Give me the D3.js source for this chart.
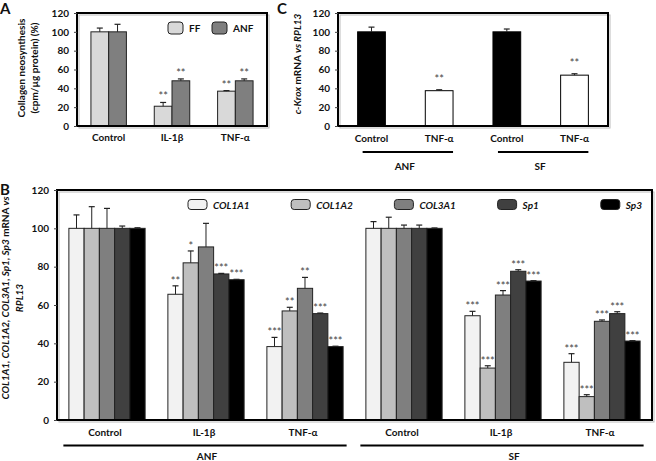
<!DOCTYPE html>
<html><head><meta charset="utf-8">
<script src="https://cdn.jsdelivr.net/npm/d3@7"></script>
<style>
body{margin:0;background:#fff}
text{font-family:Lato,"Open Sans",sans-serif;font-weight:bold;fill:#111}
</style>
</head><body>
<svg id="chart" width="656" height="461"></svg>
<script>
// ---------- Panel A data ----------
const aGroups = ["Control", "IL-1β", "TNF-α"];
const aSeries = ["FF", "ANF"];
const aFF = [100, 21, 37];
const aFFerr = [4, 4, 0.6];
const aANF = [100, 48, 48];
const aANFerr = [8, 2, 2];
const aFFstars = ["", "**", "**"];
const aANFstars = ["", "**", "**"];
const aTicks = [0, 20, 40, 60, 80, 100, 120];

// ---------- Panel C data ----------
const cCategories = ["Control", "TNF-α", "Control", "TNF-α"];
const cValues = [100, 37.5, 100, 54];
const cErr = [5, 1, 3, 1.5];
const cStars = ["", "**", "", "**"];
const cCellTypes = ["ANF", "SF"];
const cTicks = [0, 20, 40, 60, 80, 100, 120];

// ---------- Panel B data ----------
const bTreatments = ["Control", "IL-1β", "TNF-α", "Control", "IL-1β", "TNF-α"];
const bCellTypes = ["ANF", "SF"];
const bGenes = ["COL1A1", "COL1A2", "COL3A1", "Sp1", "Sp3"];
const bCOL1A1 = [100, 65.6, 38.3, 100, 54.4, 30.1];
const bCOL1A2 = [100, 82, 56.9, 100, 27.1, 12.2];
const bCOL3A1 = [100, 90.3, 68.7, 100, 65.2, 51.5];
const bSp1 = [100, 76.2, 55.5, 100, 77.6, 55.5];
const bSp3 = [100, 73.2, 38.3, 100, 72.5, 41.2];
const bCOL1A1err = [7, 4.4, 4.8, 3.5, 2.3, 4.5];
const bCOL1A2err = [11.3, 6.2, 1.9, 5.8, 1.2, 1.0];
const bCOL3A1err = [10.4, 12.3, 5.7, 1.7, 2.3, 0.7];
const bSp1err = [1.2, 0.3, 0.3, 1.7, 0.8, 1.0];
const bSp3err = [0.3, 0.2, 0.2, 0.2, 0.2, 0.2];
const bCOL1A1stars = ["", "**", "***", "", "***", "***"];
const bCOL1A2stars = ["", "*", "**", "", "***", "***"];
const bCOL3A1stars = ["", "", "**", "", "***", "***"];
const bSp1stars = ["", "***", "***", "", "***", "***"];
const bSp3stars = ["", "***", "***", "", "***", "***"];
const bTicks = [0, 20, 40, 60, 80, 100, 120];

const svg = d3.select("#chart");
const STROKE = "#222";

function errBar(g, x, w, yTop, yErr) {
  const cx = x + w / 2;
  g.append("line").attr("x1", cx).attr("x2", cx).attr("y1", yTop).attr("y2", yErr)
    .attr("stroke", STROKE).attr("stroke-width", 1);
  g.append("line").attr("x1", cx - 3).attr("x2", cx + 3).attr("y1", yErr).attr("y2", yErr)
    .attr("stroke", STROKE).attr("stroke-width", 1.2);
}
function stars(g, x, w, yErr, s, size) {
  if (!s) return;
  g.append("text").attr("x", x + w / 2).attr("y", yErr - 1).attr("text-anchor", "middle")
    .style("font-size", size + "px").style("fill", "#444").style("font-weight", "normal")
    .text(s);
}
function yAxis(g, y, ticks, x0) {
  const ax = d3.axisLeft(y).tickValues(ticks).tickSize(3).tickPadding(5);
  const a = g.append("g").attr("transform", `translate(${x0},0)`).call(ax);
  a.select(".domain").remove();
  a.selectAll("line").attr("stroke", "#444");
  a.selectAll("text").style("font-family", "Lato").style("font-weight", "bold")
    .style("font-size", "10px").attr("fill", "#111");
}
function frame(g, x0, x1, y0, y1) {
  g.append("rect").attr("x", x0 + 2).attr("y", y0 + 2).attr("width", x1 - x0).attr("height", y1 - y0)
    .attr("fill", "none").attr("stroke", "#bbb").attr("stroke-width", 1);
  g.append("rect").attr("x", x0).attr("y", y0).attr("width", x1 - x0).attr("height", y1 - y0)
    .attr("fill", "none").attr("stroke", "#000").attr("stroke-width", 2);
}

// ================= Panel A =================
{
  const g = svg.append("g");
  const L = 77, R = 267, T = 13, B = 126;
  const y = d3.scaleLinear().domain([0, 120]).range([B, T]);
  const x = d3.scaleBand().domain(aGroups).range([L, R]).paddingInner(0.44).paddingOuter(0.22);
  const xs = d3.scaleBand().domain(aSeries).range([0, x.bandwidth()]);
  const colors = { FF: "#d9d9d9", ANF: "#7f7f7f" };
  const vals = { FF: aFF, ANF: aANF };
  const errs = { FF: aFFerr, ANF: aANFerr };
  const st = { FF: aFFstars, ANF: aANFstars };
  aSeries.forEach(s => {
    aGroups.forEach((grp, i) => {
      const bx = x(grp) + xs(s), bw = xs.bandwidth();
      g.append("rect").attr("x", bx).attr("y", y(vals[s][i])).attr("width", bw)
        .attr("height", y(0) - y(vals[s][i])).attr("fill", colors[s]).attr("stroke", STROKE).attr("stroke-width", 1);
      const ye = y(vals[s][i] + errs[s][i]);
      errBar(g, bx, bw, y(vals[s][i]), ye);
      stars(g, bx, bw, ye - 1, st[s][i], 11);
    });
  });
  frame(g, L, R, T, B);
  yAxis(g, y, aTicks, L);
  aGroups.forEach(grp => {
    g.append("text").attr("x", x(grp) + x.bandwidth() / 2).attr("y", 141).attr("text-anchor", "middle")
      .style("font-size", "10px").text(grp);
  });
  // legend
  const lx = [168, 212];
  aSeries.forEach((s, i) => {
    g.append("rect").attr("x", lx[i]).attr("y", 22).attr("width", 15).attr("height", 12).attr("rx", 3)
      .attr("fill", colors[s]).attr("stroke", STROKE);
    g.append("text").attr("x", lx[i] + 21).attr("y", 32).style("font-size", "10px").text(s);
  });
  // y title
  const t = g.append("text").attr("transform", "translate(25,68) rotate(-90)").attr("text-anchor", "middle")
    .style("font-size", "10px");
  t.append("tspan").attr("x", 0).attr("dy", 0).text("Collagen neosynthesis");
  t.append("tspan").attr("x", 0).attr("dy", 13).text("(cpm/µg protein) (%)");
  g.append("text").attr("x", 0).attr("y", 14).style("font-size", "15px").text("A");
}

// ================= Panel C =================
{
  const g = svg.append("g");
  const L = 338, R = 608, T = 13, B = 126;
  const y = d3.scaleLinear().domain([0, 120]).range([B, T]);
  const x = d3.scaleBand().domain(d3.range(cCategories.length)).range([L, R]).paddingInner(0.59).paddingOuter(0.29);
  cCategories.forEach((c, i) => {
    const bx = x(i), bw = x.bandwidth();
    g.append("rect").attr("x", bx).attr("y", y(cValues[i])).attr("width", bw)
      .attr("height", y(0) - y(cValues[i])).attr("fill", c === "Control" ? "#000" : "#fff")
      .attr("stroke", "#000").attr("stroke-width", 1);
    const ye = y(cValues[i] + cErr[i]);
    errBar(g, bx, bw, y(cValues[i]), ye);
    stars(g, bx, bw, ye - 6, cStars[i], 11);
    g.append("text").attr("x", bx + bw / 2).attr("y", 142).attr("text-anchor", "middle")
      .style("font-size", "10px").text(c);
  });
  frame(g, L, R, T, B);
  yAxis(g, y, cTicks, L);
  cCellTypes.forEach((ct, k) => {
    const x0 = x(2 * k) + 5, x1 = x(2 * k + 1) + x.bandwidth();
    g.append("line").attr("x1", x0).attr("x2", x1).attr("y1", 152).attr("y2", 152)
      .attr("stroke", "#000").attr("stroke-width", 1.8);
    g.append("text").attr("x", (x0 + x1) / 2 - 3).attr("y", 170).attr("text-anchor", "middle")
      .style("font-size", "10px").text(ct);
  });
  const t = g.append("text").attr("transform", "translate(301,64) rotate(-90)").attr("text-anchor", "middle")
    .style("font-size", "10px");
  t.append("tspan").style("font-style", "italic").text("c-Krox");
  t.append("tspan").text(" mRNA ");
  t.append("tspan").style("font-style", "italic").text("vs RPL13");
  g.append("text").attr("x", 277).attr("y", 14).style("font-size", "15px").text("C");
}

// ================= Panel B =================
{
  const g = svg.append("g");
  const L = 57, R = 652, T = 190, B = 420;
  const y = d3.scaleLinear().domain([0, 120]).range([B, T]);
  const x = d3.scaleBand().domain(d3.range(bTreatments.length)).range([L, R]).paddingInner(0.23).paddingOuter(0.12);
  const xs = d3.scaleBand().domain(bGenes).range([0, x.bandwidth()]);
  const colors = { COL1A1: "#f2f2f2", COL1A2: "#bfbfbf", COL3A1: "#7f7f7f", Sp1: "#404040", Sp3: "#000000" };
  const vals = { COL1A1: bCOL1A1, COL1A2: bCOL1A2, COL3A1: bCOL3A1, Sp1: bSp1, Sp3: bSp3 };
  const errs = { COL1A1: bCOL1A1err, COL1A2: bCOL1A2err, COL3A1: bCOL3A1err, Sp1: bSp1err, Sp3: bSp3err };
  const st = { COL1A1: bCOL1A1stars, COL1A2: bCOL1A2stars, COL3A1: bCOL3A1stars, Sp1: bSp1stars, Sp3: bSp3stars };
  bGenes.forEach(gene => {
    bTreatments.forEach((tr, i) => {
      const bx = x(i) + xs(gene), bw = xs.bandwidth();
      const v = vals[gene][i];
      g.append("rect").attr("x", bx).attr("y", y(v)).attr("width", bw).attr("height", y(0) - y(v))
        .attr("fill", colors[gene]).attr("stroke", STROKE).attr("stroke-width", 1);
      const ye = y(v + errs[gene][i]);
      errBar(g, bx, bw, y(v), ye);
    });
  });
  bGenes.forEach(gene => {
    bTreatments.forEach((tr, i) => {
      const bx = x(i) + xs(gene), bw = xs.bandwidth();
      const ye = y(vals[gene][i] + errs[gene][i]);
      stars(g, bx, bw, ye, st[gene][i], 11);
    });
  });
  frame(g, L, R, T, B);
  yAxis(g, y, bTicks, L);
  bTreatments.forEach((tr, i) => {
    g.append("text").attr("x", x(i) + x.bandwidth() / 2 - 2).attr("y", 436).attr("text-anchor", "middle")
      .style("font-size", "10px").text(tr);
  });
  bCellTypes.forEach((ct, k) => {
    const x0 = x(3 * k) - 5.5, x1 = x(3 * k + 2) + x.bandwidth() + 3.5;
    g.append("line").attr("x1", x0).attr("x2", x1).attr("y1", 445.5).attr("y2", 445.5)
      .attr("stroke", "#000").attr("stroke-width", 2);
    g.append("text").attr("x", (x0 + x1) / 2 + (k === 1 ? 12 : 2)).attr("y", 460).attr("text-anchor", "middle")
      .style("font-size", "10px").text(ct);
  });
  // legend
  bGenes.forEach((gene, i) => {
    const lx = 188 + i * 103.2;
    g.append("rect").attr("x", lx).attr("y", 199.5).attr("width", 19).attr("height", 10).attr("rx", 3)
      .attr("fill", colors[gene]).attr("stroke", STROKE);
    g.append("text").attr("x", lx + 25).attr("y", 208.5).style("font-size", "10px")
      .style("font-style", "italic").text(gene);
  });
  const t = g.append("text").attr("transform", "translate(9,298) rotate(-90)").attr("text-anchor", "middle")
    .style("font-size", "10px");
  const l1 = t.append("tspan").attr("x", 0).attr("dy", 0);
  l1.append("tspan").style("font-style", "italic").text("COL1A1, COL1A2, COL3A1, Sp1, Sp3");
  l1.append("tspan").text(" mRNA ");
  l1.append("tspan").style("font-style", "italic").text("vs");
  t.append("tspan").attr("x", 0).attr("dy", 14).style("font-style", "italic").text("RPL13");
  g.append("text").attr("x", 0).attr("y", 195).style("font-size", "15px").text("B");
}
</script>
</body></html>
